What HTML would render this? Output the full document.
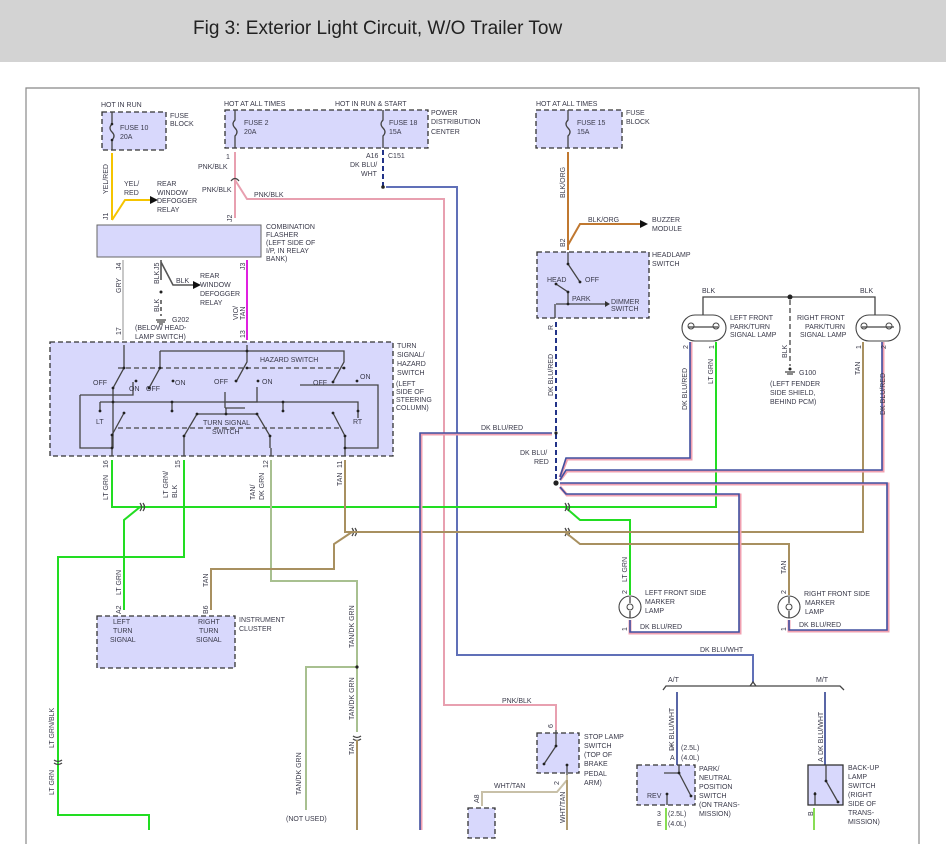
<!DOCTYPE html>
<html><head><meta charset="utf-8"><style>
html,body{margin:0;padding:0;background:#fff;}
svg{display:block;}
text{font-family:"Liberation Sans",sans-serif;font-size:7px;fill:#3a3a4a;}
.t{font-size:19px;fill:#222;}
.box{fill:#d8d8fc;stroke:#333;stroke-width:1.3;stroke-dasharray:5,3;}
.sbox{fill:#d8d8fc;stroke:#333;stroke-width:1.3;}
.k{stroke:#444;stroke-width:1.3;fill:none;}
.d{fill:#222;}
</style></head><body>
<svg width="946" height="844" viewBox="0 0 946 844" xmlns="http://www.w3.org/2000/svg">
<rect x="0" y="0" width="946" height="62" fill="#d3d3d3"/>
<text x="193" y="34" class="t">Fig 3: Exterior Light Circuit, W/O Trailer Tow</text>
<path d="M26 844 V88 H919 V844" fill="none" stroke="#888" stroke-width="1.2"/>

<!-- Fuse 10 -->
<rect class="box" x="102" y="112" width="64" height="38"/>
<text x="101" y="107">HOT IN RUN</text>
<text x="170" y="118">FUSE</text><text x="170" y="126">BLOCK</text>
<text x="120" y="130">FUSE 10</text><text x="120" y="139">20A</text>
<path class="k" d="M112 112 V124 q-4 4 0 8 q4 4 0 8 V150"/>
<circle class="d" cx="112" cy="124" r="1.3"/><circle class="d" cx="112" cy="140" r="1.3"/>
<!-- YEL/RED -->
<path d="M112 153 V220 M112 220 L125 200 H150" stroke="#f5c400" stroke-width="2" fill="none"/>
<path d="M150 196 L158 200 L150 204Z" fill="#111"/>
<text transform="translate(108 194) rotate(-90)">YEL/RED</text>
<text x="124" y="186">YEL/</text><text x="124" y="195">RED</text>
<text x="157" y="186">REAR</text><text x="157" y="195">WINDOW</text><text x="157" y="203">DEFOGGER</text><text x="157" y="212">RELAY</text>
<text transform="translate(108 220) rotate(-90)">J1</text>

<!-- PDC -->
<rect class="box" x="225" y="110" width="203" height="38"/>
<text x="224" y="106">HOT AT ALL TIMES</text><text x="335" y="106">HOT IN RUN &amp; START</text>
<text x="431" y="115">POWER</text><text x="431" y="124">DISTRIBUTION</text><text x="431" y="134">CENTER</text>
<text x="244" y="125">FUSE 2</text><text x="244" y="134">20A</text>
<text x="389" y="125">FUSE 18</text><text x="389" y="134">15A</text>
<path class="k" d="M235 110 V120 q-4 4 0 8 q4 4 0 8 V148 M383 110 V120 q-4 4 0 8 q4 4 0 8 V148"/>
<!-- PNK/BLK -->
<path d="M235 152 V218 M235 180 L247 199 H444 V705 H556 V730" stroke="#e8a0b0" stroke-width="2" fill="none"/>
<text x="226" y="159">1</text>
<text x="198" y="169">PNK/BLK</text><text x="202" y="192">PNK/BLK</text><text x="254" y="197">PNK/BLK</text>
<text transform="translate(232 222) rotate(-90)">J2</text>
<path class="k" d="M231 181 q4 -5 8 0" />
<!-- DK BLU/WHT -->
<path d="M383 150 V186" stroke="#223388" stroke-width="2" stroke-dasharray="5,3" fill="none"/>
<circle class="d" cx="383" cy="187" r="1.8"/>
<path d="M386 187 H457 V655 H753 V682" stroke="#6070b8" stroke-width="2" fill="none"/>
<text x="366" y="158">A16</text><text x="388" y="158">C151</text>
<text x="350" y="167">DK BLU/</text><text x="361" y="176">WHT</text>
<text x="700" y="652">DK BLU/WHT</text>
<path class="k" d="M663 690 L666 686 H840 L844 690 M750 686 L753 682 L756 686" />
<text x="668" y="682">A/T</text><text x="816" y="682">M/T</text>
<path d="M677 692 V765 M825 692 V765" stroke="#223388" stroke-width="1.5"/>

<!-- Combination flasher -->
<rect x="97" y="225" width="164" height="32" fill="#d8d8fc" stroke="#666" stroke-width="1"/>
<text x="266" y="229">COMBINATION</text><text x="266" y="237">FLASHER</text><text x="266" y="245">(LEFT SIDE OF</text><text x="266" y="253">I/P, IN RELAY</text><text x="266" y="261">BANK)</text>
<path d="M123 260 V340" stroke="#c8c8c8" stroke-width="2"/>
<text transform="translate(121 293) rotate(-90)">GRY</text>
<text transform="translate(121 270) rotate(-90)">J4</text>
<path d="M161 260 V280 M161 262 L173 285 H193" stroke="#555" stroke-width="1.6" fill="none"/>
<path d="M193 281 L201 285 L193 289Z" fill="#111"/>
<path d="M161 300 V316" stroke="#555" stroke-width="1.6" stroke-dasharray="4,3"/>
<circle class="d" cx="161" cy="292" r="1.5"/>
<path class="k" d="M156 320 H166 M157 322 H165 M159 324 H163"/>
<text transform="translate(159 270) rotate(-90)">J5</text>
<text transform="translate(159 284) rotate(-90)">BLK</text>
<text transform="translate(159 312) rotate(-90)">BLK</text>
<text x="176" y="283">BLK</text>
<text x="200" y="278">REAR</text><text x="200" y="287">WINDOW</text><text x="200" y="296">DEFOGGER</text><text x="200" y="305">RELAY</text>
<text x="172" y="322">G202</text><text x="135" y="330">(BELOW HEAD-</text><text x="135" y="339">LAMP SWITCH)</text>
<path d="M247 260 V340" stroke="#e020e0" stroke-width="2"/>
<text transform="translate(238 320) rotate(-90)">VIO/</text><text transform="translate(245 320) rotate(-90)">TAN</text>
<text transform="translate(245 270) rotate(-90)">J3</text>
<text transform="translate(121 335) rotate(-90)">17</text>
<text transform="translate(245 338) rotate(-90)">13</text>

<!-- Turn signal / hazard switch -->
<rect class="box" x="50" y="342" width="343" height="114"/>
<text x="397" y="348">TURN</text><text x="397" y="357">SIGNAL/</text><text x="397" y="366">HAZARD</text><text x="397" y="375">SWITCH</text>
<text x="396" y="386">(LEFT</text><text x="396" y="394">SIDE OF</text><text x="396" y="402">STEERING</text><text x="396" y="410">COLUMN)</text>
<g class="k">
<path d="M124 345 V368 L113 388 V448 M160 351 H344 V362 L333 382 M160 351 V368 L149 388 M247 345 V362 L236 382"/>
<path d="M118 368 H344" stroke-dasharray="5,3"/>
<path d="M80 395 H133 V382 M80 395 V448 H112 M225 408 V392 M225 408 H245 M242 408 H225"/>
<path d="M300 385 H378 V448 H345 M100 402 H358 V418 M172 402 V411 M283 402 V411"/>
<path d="M100 402 V411 M124 413 L112 435 V448 M197 414 L184 436 V448 M197 414 H257 L270 436 V448 M333 413 L345 436 V448"/>
<path d="M118 428 H340" stroke-dasharray="5,3"/>
<path d="M226 414 V408 M257 387 V402 H226"/>
<path d="M112 448 V456 M184 448 V456 M271 448 V456 M345 448 V456"/>
</g>
<g class="d">
<circle cx="124" cy="368" r="1.4"/><circle cx="113" cy="388" r="1.4"/><circle cx="136" cy="381" r="1.4"/><circle cx="149" cy="388" r="1.4"/><circle cx="160" cy="368" r="1.4"/><circle cx="173" cy="381" r="1.4"/>
<circle cx="247" cy="368" r="1.4"/><circle cx="236" cy="381" r="1.4"/><circle cx="258" cy="381" r="1.4"/><circle cx="344" cy="368" r="1.4"/><circle cx="333" cy="382" r="1.4"/><circle cx="357" cy="381" r="1.4"/>
<circle cx="113" cy="402" r="1.4"/><circle cx="100" cy="411" r="1.4"/><circle cx="124" cy="413" r="1.4"/><circle cx="112" cy="435" r="1.4"/><circle cx="112" cy="448" r="1.4"/>
<circle cx="172" cy="402" r="1.4"/><circle cx="172" cy="411" r="1.4"/><circle cx="197" cy="414" r="1.4"/><circle cx="184" cy="436" r="1.4"/><circle cx="226" cy="414" r="1.4"/><circle cx="257" cy="414" r="1.4"/><circle cx="270" cy="436" r="1.4"/>
<circle cx="283" cy="402" r="1.4"/><circle cx="283" cy="411" r="1.4"/><circle cx="358" cy="411" r="1.4"/><circle cx="333" cy="413" r="1.4"/><circle cx="345" cy="436" r="1.4"/><circle cx="345" cy="448" r="1.4"/><circle cx="247" cy="351" r="1.4"/>
</g>
<text x="260" y="362">HAZARD SWITCH</text>
<text x="93" y="385">OFF</text><text x="129" y="391">ON</text><text x="146" y="391">OFF</text><text x="175" y="385">ON</text>
<text x="214" y="384">OFF</text><text x="262" y="384">ON</text><text x="313" y="385">OFF</text><text x="360" y="379">ON</text>
<text x="96" y="424">LT</text><text x="353" y="424">RT</text>
<text x="203" y="425">TURN SIGNAL</text><text x="212" y="434">SWITCH</text>

<!-- outputs -->
<text transform="translate(108 468) rotate(-90)">16</text><text transform="translate(180 468) rotate(-90)">15</text><text transform="translate(268 468) rotate(-90)">12</text><text transform="translate(342 468) rotate(-90)">11</text>
<!-- LT GRN -->
<path d="M112 460 V507 H716 V342 M140 507 L124 520 V610 M565 507 L580 520 H630 V595" stroke="#22dd22" stroke-width="2" fill="none"/>
<text transform="translate(108 500) rotate(-90)">LT GRN</text>
<text transform="translate(121 595) rotate(-90)">LT GRN</text>
<text transform="translate(627 582) rotate(-90)">LT GRN</text>
<text transform="translate(713 384) rotate(-90)">LT GRN</text>
<path class="k" d="M140 503 q3 4 0 8 M143 503 q3 4 0 8 M565 503 q3 4 0 8 M568 503 q3 4 0 8 M352 528 q3 4 0 8 M355 528 q3 4 0 8 M565 528 q3 4 0 8 M568 528 q3 4 0 8"/>
<!-- LT GRN/BLK -->
<path d="M184 460 V557 H58 V815 H149 V830" stroke="#22dd22" stroke-width="2" fill="none"/>
<text transform="translate(168 498) rotate(-90)">LT GRN/</text><text transform="translate(177 498) rotate(-90)">BLK</text>
<text transform="translate(54 748) rotate(-90)">LT GRN/BLK</text>
<text transform="translate(54 795) rotate(-90)">LT GRN</text>
<path class="k" d="M54 760 q4 3 8 0 M54 763 q4 3 8 0"/>
<!-- TAN/DK GRN -->
<path d="M271 460 V581 H357 V732 M357 667 H306 V810" stroke="#a8c090" stroke-width="2" fill="none"/>
<circle class="d" cx="357" cy="667" r="1.6"/>
<text transform="translate(255 500) rotate(-90)">TAN/</text><text transform="translate(264 500) rotate(-90)">DK GRN</text>
<text transform="translate(354 648) rotate(-90)">TAN/DK GRN</text>
<text transform="translate(354 720) rotate(-90)">TAN/DK GRN</text>
<text transform="translate(301 795) rotate(-90)">TAN/DK GRN</text>
<text x="286" y="821">(NOT USED)</text>
<path class="k" d="M353 736 q4 3 8 0 M353 739 q4 3 8 0"/>
<path d="M357 740 V830" stroke="#a89060" stroke-width="2"/>
<text transform="translate(354 755) rotate(-90)">TAN</text>
<!-- TAN -->
<path d="M345 460 V532 H863 V342 M352 532 L334 544 V569 H211 V610 M565 532 L580 544 H789 V595" stroke="#a89060" stroke-width="2" fill="none"/>
<text transform="translate(342 486) rotate(-90)">TAN</text>
<text transform="translate(208 587) rotate(-90)">TAN</text>
<text transform="translate(786 574) rotate(-90)">TAN</text>
<text transform="translate(860 375) rotate(-90)">TAN</text>

<!-- Instrument cluster -->
<rect class="box" x="97" y="616" width="138" height="52"/>
<text x="113" y="624">LEFT</text><text x="113" y="633">TURN</text><text x="110" y="642">SIGNAL</text>
<text x="198" y="624">RIGHT</text><text x="199" y="633">TURN</text><text x="196" y="642">SIGNAL</text>
<text x="239" y="622">INSTRUMENT</text><text x="239" y="631">CLUSTER</text>
<text transform="translate(121 614) rotate(-90)">A2</text><text transform="translate(208 614) rotate(-90)">B6</text>

<!-- Fuse 15 / Headlamp -->
<rect class="box" x="536" y="110" width="86" height="38"/>
<text x="536" y="106">HOT AT ALL TIMES</text>
<text x="626" y="115">FUSE</text><text x="626" y="124">BLOCK</text>
<text x="577" y="125">FUSE 15</text><text x="577" y="134">15A</text>
<path class="k" d="M568 110 V120 q-4 4 0 8 q4 4 0 8 V148"/>
<path d="M568 152 V250 M568 245 L580 224 H640" stroke="#c07830" stroke-width="2" fill="none"/>
<path d="M640 220 L648 224 L640 228Z" fill="#111"/>
<text transform="translate(565 198) rotate(-90)">BLK/ORG</text>
<text x="588" y="222">BLK/ORG</text>
<text x="652" y="222">BUZZER</text><text x="652" y="231">MODULE</text>
<rect class="box" x="537" y="252" width="112" height="66"/>
<text x="652" y="257">HEADLAMP</text><text x="652" y="266">SWITCH</text>
<path class="k" d="M568 252 V264 L580 282 M556 284 L568 292 V304 M556 304 H605 M555 304 V318"/>
<path d="M605 301 L610 304 L605 307Z" fill="#333"/>
<g class="d"><circle cx="568" cy="264" r="1.4"/><circle cx="580" cy="282" r="1.4"/><circle cx="556" cy="284" r="1.4"/><circle cx="568" cy="292" r="1.4"/><circle cx="568" cy="304" r="1.4"/></g>
<text x="547" y="282">HEAD</text><text x="585" y="282">OFF</text><text x="572" y="301">PARK</text>
<text x="611" y="304">DIMMER</text><text x="611" y="311">SWITCH</text>
<text transform="translate(565 247) rotate(-90)">B2</text>
<text transform="translate(553 330) rotate(-90)">R</text>
<path d="M556 322 V483" stroke="#223388" stroke-width="2" stroke-dasharray="5,3"/>
<text transform="translate(553 396) rotate(-90)">DK BLU/RED</text>
<circle class="d" cx="556" cy="433" r="1.6"/>
<circle class="d" cx="556" cy="483" r="2.6"/>
<text x="481" y="430">DK BLU/RED</text>
<text x="520" y="455">DK BLU/</text><text x="534" y="464">RED</text>
<!-- DK BLU/RED wires -->
<g fill="none">
<path d="M421 830 V434 H552 M560 477 L567 459 H691 V342 M560 480 L567 471 H883 V342 M560 484 H888 V631 H789 V620 M560 487 L567 495 H740 V633 H630 V620" stroke="#f0a0b0" stroke-width="3"/>
<path d="M420 830 V433 H552 M560 477 L566 458 H690 V342 M560 480 L566 470 H882 V342 M560 483 H887 V630 H789 V620 M560 487 L566 494 H739 V632 H630 V620" stroke="#4050a0" stroke-width="1.6"/>
</g>
<text transform="translate(687 410) rotate(-90)">DK BLU/RED</text>
<text transform="translate(885 415) rotate(-90)">DK BLU/RED</text>
<text x="640" y="629">DK BLU/RED</text><text x="799" y="627">DK BLU/RED</text>

<!-- Front park lamps -->
<path d="M703 319 V297 H875 V319" stroke="#444" stroke-width="1.3" fill="none"/>
<circle class="d" cx="790" cy="297" r="2.5"/>
<text x="702" y="293">BLK</text><text x="860" y="293">BLK</text>
<rect x="682" y="315" width="44" height="26" rx="13" fill="#fff" stroke="#444" stroke-width="1.1"/>
<rect x="856" y="315" width="44" height="26" rx="13" fill="#fff" stroke="#444" stroke-width="1.1"/>
<path class="k" d="M688 327 H718 M862 327 H894"/>
<circle cx="691" cy="326" r="3" fill="none" stroke="#444"/><circle cx="716" cy="326" r="3" fill="none" stroke="#444"/>
<circle cx="864" cy="326" r="3" fill="none" stroke="#444"/><circle cx="889" cy="326" r="3" fill="none" stroke="#444"/>
<text x="730" y="320">LEFT FRONT</text><text x="730" y="329">PARK/TURN</text><text x="730" y="337">SIGNAL LAMP</text>
<text x="797" y="320">RIGHT FRONT</text><text x="805" y="329">PARK/TURN</text><text x="800" y="337">SIGNAL LAMP</text>
<path d="M790 300 V366" stroke="#444" stroke-width="1.3" stroke-dasharray="5,3"/>
<path class="k" d="M785 372 H795 M787 374 H793"/><circle class="d" cx="790" cy="369" r="1.5"/>
<text transform="translate(787 358) rotate(-90)">BLK</text>
<text x="799" y="375">G100</text><text x="770" y="386">(LEFT FENDER</text><text x="770" y="395">SIDE SHIELD,</text><text x="770" y="404">BEHIND PCM)</text>
<text transform="translate(688 349) rotate(-90)">2</text><text transform="translate(714 349) rotate(-90)">1</text>
<text transform="translate(861 349) rotate(-90)">1</text><text transform="translate(886 349) rotate(-90)">2</text>

<!-- Side marker lamps -->
<circle cx="630" cy="607" r="11" fill="#fff" stroke="#444" stroke-width="1.1"/>
<circle cx="789" cy="607" r="11" fill="#fff" stroke="#444" stroke-width="1.1"/>
<path class="k" d="M630 597 V603 M630 611 V618 M789 597 V603 M789 611 V618"/>
<circle cx="630" cy="607" r="3" fill="none" stroke="#444"/><circle cx="789" cy="607" r="3" fill="none" stroke="#444"/>
<text x="645" y="595">LEFT FRONT SIDE</text><text x="645" y="604">MARKER</text><text x="645" y="613">LAMP</text>
<text x="804" y="596">RIGHT FRONT SIDE</text><text x="805" y="605">MARKER</text><text x="805" y="614">LAMP</text>
<text transform="translate(627 594) rotate(-90)">2</text><text transform="translate(786 594) rotate(-90)">2</text>
<text transform="translate(627 631) rotate(-90)">1</text><text transform="translate(786 631) rotate(-90)">1</text>

<!-- Stop lamp switch -->
<rect class="box" x="537" y="733" width="42" height="40"/>
<path class="k" d="M556 730 V746 L544 764 M567 765 V775"/>
<g class="d"><circle cx="556" cy="746" r="1.4"/><circle cx="544" cy="764" r="1.4"/><circle cx="567" cy="765" r="1.4"/></g>
<text x="584" y="739">STOP LAMP</text><text x="584" y="748">SWITCH</text><text x="584" y="757">(TOP OF</text><text x="584" y="766">BRAKE</text><text x="584" y="776">PEDAL</text><text x="584" y="785">ARM)</text>
<text x="502" y="703">PNK/BLK</text>
<text transform="translate(553 728) rotate(-90)">6</text><text transform="translate(559 785) rotate(-90)">2</text>
<path d="M567 775 V830 M567 780 L557 792 H482 V806" stroke="#c8c0a8" stroke-width="2" fill="none"/>
<path d="M567 780 V830" stroke="#a89060" stroke-width="1.5"/>
<text x="494" y="788">WHT/TAN</text>
<text transform="translate(565 823) rotate(-90)">WHT/TAN</text>
<text transform="translate(479 803) rotate(-90)">A8</text>
<rect class="box" x="468" y="808" width="27" height="30"/>

<!-- Park/neutral -->
<rect class="box" x="637" y="765" width="58" height="40"/>
<path class="k" d="M679 765 V773 L691 796 M679 773 H664 M667 795 V805"/>
<g class="d"><circle cx="679" cy="773" r="1.4"/><circle cx="691" cy="796" r="1.4"/><circle cx="667" cy="794" r="1.4"/></g>
<text x="647" y="798">REV</text>
<text x="699" y="771">PARK/</text><text x="699" y="780">NEUTRAL</text><text x="699" y="789">POSITION</text><text x="699" y="798">SWITCH</text><text x="699" y="807">(ON TRANS-</text><text x="699" y="816">MISSION)</text>
<text transform="translate(674 751) rotate(-90)">DK BLU/WHT</text>
<text x="670" y="750">1</text><text x="681" y="750">(2.5L)</text><text x="670" y="760">A</text><text x="681" y="760">(4.0L)</text>
<text x="657" y="816">3</text><text x="668" y="816">(2.5L)</text><text x="657" y="826">E</text><text x="668" y="826">(4.0L)</text>
<path d="M666 808 V830" stroke="#88dd55" stroke-width="2"/>

<!-- Back-up lamp -->
<rect class="sbox" x="808" y="765" width="35" height="40"/>
<path class="k" d="M826 765 V781 L838 802 M815 792 V805"/>
<g class="d"><circle cx="826" cy="781" r="1.4"/><circle cx="838" cy="802" r="1.4"/><circle cx="815" cy="794" r="1.4"/></g>
<text x="848" y="770">BACK-UP</text><text x="848" y="779">LAMP</text><text x="848" y="788">SWITCH</text><text x="848" y="797">(RIGHT</text><text x="848" y="806">SIDE OF</text><text x="848" y="815">TRANS-</text><text x="848" y="824">MISSION)</text>
<text transform="translate(823 755) rotate(-90)">DK BLU/WHT</text>
<text transform="translate(823 762) rotate(-90)">A</text>
<text transform="translate(813 816) rotate(-90)">B</text>
<path d="M814 808 V830" stroke="#88dd55" stroke-width="2"/>
</svg>
</body></html>
